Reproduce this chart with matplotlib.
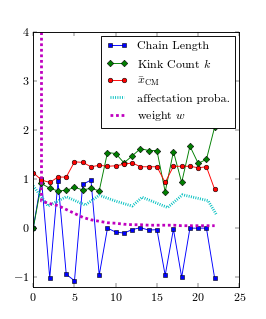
import matplotlib
matplotlib.use("Agg")
import matplotlib.pyplot as plt
from matplotlib.ticker import FuncFormatter

# ---- data ----
steps = list(range(23))
chain_length = [0.0, 1.0, -1.02, 0.96, -0.94, -1.07, 0.89, 0.98, -0.96, 0.0, -0.08,
                -0.1, -0.03, 0.01, -0.04, -0.03, -0.96, -0.02, -1.0, 0.0, 0.0, 0.0, -1.02]
kink_count = [0.0, 0.91, 0.81, 0.76, 0.77, 0.83, 0.78, 0.81, 0.76, 1.54, 1.52,
              1.33, 1.47, 1.62, 1.58, 1.58, 0.74, 1.56, 0.93, 1.67, 1.32, 1.40, 2.06]
x_cm = [1.13, 0.98, 0.93, 1.04, 1.04, 1.35, 1.34, 1.25, 1.28, 1.26, 1.27,
        1.30, 1.33, 1.25, 1.25, 1.25, 0.93, 1.26, 1.26, 1.26, 1.23, 1.25, 0.79]
aff_x = [0, 1.8, 4.0, 6.3, 8.0, 10.0, 12.0, 13.2, 16.3, 18.1, 21.2, 22.2]
aff_y = [0.86, 0.45, 0.64, 0.47, 0.67, 0.55, 0.45, 0.63, 0.42, 0.68, 0.56, 0.28]
w_x = [1, 1, 2, 3, 4, 5, 6, 7, 8, 9, 10, 11, 12, 13, 14, 15, 16, 17, 18, 19, 20, 21, 22]
w_y = [10.0, 0.55, 0.50, 0.46, 0.38, 0.30, 0.22, 0.17, 0.14, 0.11, 0.10, 0.08, 0.07,
       0.07, 0.06, 0.06, 0.06, 0.06, 0.05, 0.05, 0.05, 0.05, 0.05]
labels = ["Chain Length", "Kink Count $k$", r"$\bar{x}_{\rm CM}$",
          "affectation proba.", "weight $w$"]
xticks = [0, 5, 10, 15, 20, 25]
yticks = [-1, 0, 1, 2, 3, 4]

plt.style.use("classic")
plt.rcParams["mathtext.fontset"] = "cm"
plt.rcParams["font.family"] = ["cmr10", "DejaVu Serif"]
plt.rcParams["axes.unicode_minus"] = False
plt.rcParams["lines.scale_dashes"] = False

fig = plt.figure(figsize=(4, 4.8), dpi=66.5)
ax = fig.add_subplot(111)
fig.subplots_adjust(left=0.125, right=0.9, bottom=0.1, top=0.9)

ms = 5
ax.plot(steps, chain_length, color="b", marker="s", ms=ms, lw=1, mec="k", mew=0.6, label=labels[0])
ax.plot(steps, kink_count, color="g", marker="D", ms=ms, lw=1, mec="k", mew=0.6, label=labels[1])
ax.plot(steps, x_cm, color="r", marker="o", ms=ms, lw=1, mec="k", mew=0.6, label=labels[2])
ax.plot(aff_x, aff_y, color="c", lw=3, dashes=(1, 1.5), label=labels[3])
ax.plot(w_x, w_y, color="m", lw=3, dashes=(3, 3), label=labels[4])

ax.set_xlim(0, 25)
ax.set_ylim(-1.2, 4)
ax.set_xticks(xticks)
ax.set_yticks(yticks)
fmt = FuncFormatter(lambda v, p: r"$%d$" % v if v >= 0 else r"$-%d$" % (-v))
ax.xaxis.set_major_formatter(fmt)
ax.yaxis.set_major_formatter(fmt)
ax.tick_params(labelsize=13)

leg = ax.legend(loc="upper right", fontsize=13, numpoints=2, borderaxespad=0.35,
                handlelength=1.8, fancybox=False, labelspacing=0.45)
leg.get_frame().set_edgecolor("k")

fig.savefig("out.png", dpi=66.5)
